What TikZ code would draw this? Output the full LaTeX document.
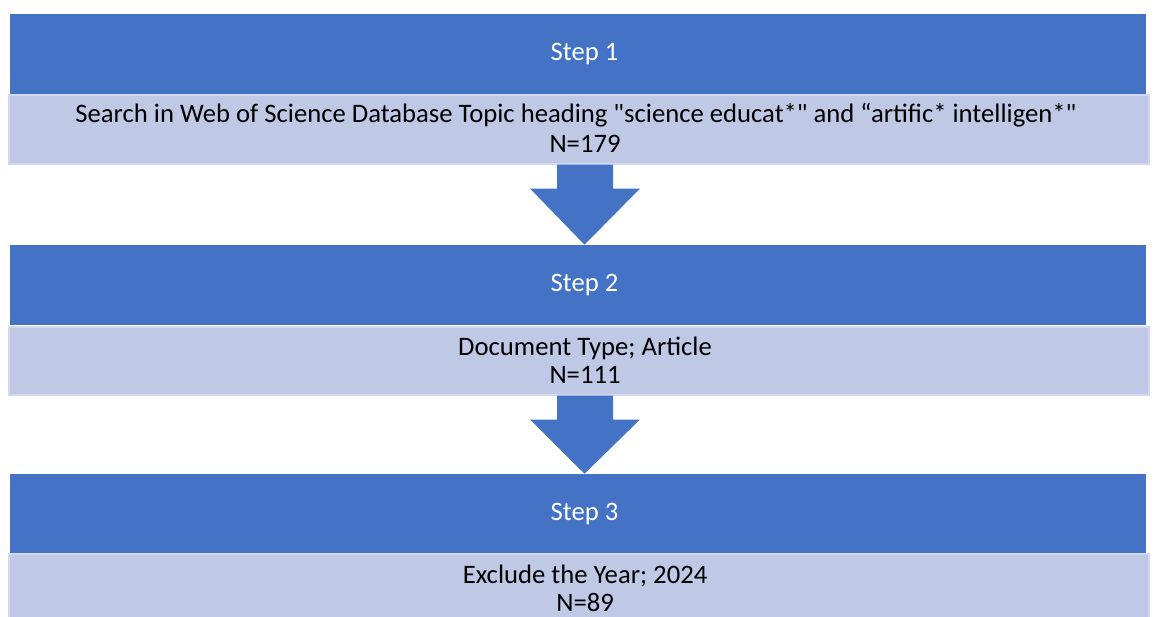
\documentclass[tikz,border=0pt]{standalone}
\usepackage{fontspec}
\setmainfont{Carlito}
\usetikzlibrary{calc}
\definecolor{stepblue}{HTML}{4472C4}
\definecolor{boxblue}{HTML}{BFC8E5}
\definecolor{boxedge}{HTML}{D2D8EE}

\tikzset{
  stepbar/.style={fill=stepblue, inner sep=0pt, minimum width=852pt, minimum height=60pt},
  stepbox/.style={fill=boxblue, draw=boxedge, line width=1.5pt, inner sep=0pt, minimum width=855pt, minimum height=51pt},
  steptext/.style={font=\fontsize{20}{21}\selectfont, align=center, inner sep=0pt, xshift=4.9pt}
}

\begin{document}
\begin{tikzpicture}[x=0.75pt, y=-0.75pt]
	\useasboundingbox (0,0) rectangle (1154,617);
	\node[stepbar, label={[steptext, text=white]center:Step 1}] (step1)at(578, 54) {};
	\node[stepbox, label={[steptext, xshift=-6.8pt, yshift=10.5pt]center:Search in Web of Science Database Topic heading \textquotedbl science educat*\textquotedbl{} and “artific* intelligen*\textquotedbl}, label={[steptext, yshift=-10.5pt]center:N=179}] (desc1)at(578.5, 129.5) {};
	\node[stepbar, label={[steptext, text=white]center:Step 2}] (step2)at(578, 285) {};
	\node[stepbox, label={[steptext]center:Document Type; Article\\N=111}] (desc2)at(578.5, 360.5) {};
	\node[stepbar, label={[steptext, text=white]center:Step 3}] (step3)at(578, 514) {};
	\node[stepbox, label={[steptext]center:Exclude the Year; 2024\\N=89}] (desc3)at(578.5, 588) {};
	\foreach \a/\b in {desc1/step2, desc2/step3}
		\fill[stepblue] ($(\a.south)+(-21.5,0)$) -- ($(\a.south)+(34.5,0)$) -- ($(\a.south)+(34.5,24)$) -- ($(\a.south)+(61.5,24)$) -- ($(\b.north)+(6.5,0)$) -- ($(\a.south)+(-48.5,24)$) -- ($(\a.south)+(-21.5,24)$) -- cycle;
\end{tikzpicture}
\end{document}
